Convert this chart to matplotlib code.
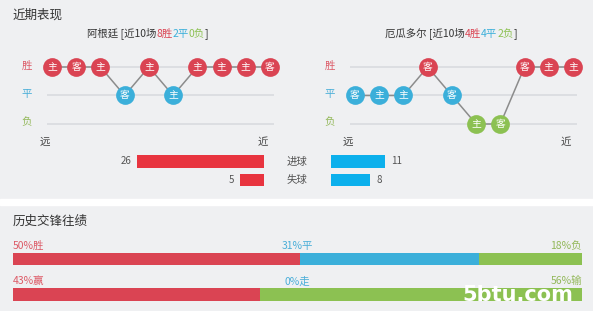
import matplotlib
matplotlib.use('Agg')
import matplotlib.pyplot as plt
from matplotlib.patches import Rectangle

plt.rcParams['font.family'] = ['Noto Sans CJK SC', 'DejaVu Sans']

# ---- data ----
arg_name = '阿根廷'
arg_results = ['胜', '胜', '胜', '平', '胜', '平', '胜', '胜', '胜', '胜']
arg_venues = ['主', '客', '主', '客', '主', '主', '主', '主', '主', '客']
ecu_name = '厄瓜多尔'
ecu_results = ['平', '平', '平', '胜', '平', '负', '负', '胜', '胜', '胜']
ecu_venues = ['客', '主', '主', '客', '客', '主', '客', '客', '主', '主']

goal_labels = ['进球', '失球']
arg_goals = [26, 5]
ecu_goals = [11, 8]

h2h_rows = [[50, 31, 18], [43, 0, 56]]
h2h_names = [['胜', '平', '负'], ['赢', '走', '输']]

# ---- style ----
W, H = 593, 311
BG = '#eff0f2'
RED, BLUE, GREEN = '#da4453', '#3bafda', '#8cc152'
res_color = {'胜': RED, '平': BLUE, '负': GREEN}
lab_color = {'胜': '#dd5a67', '平': '#4aaed8', '负': '#93b85a'}
row_y = {'胜': 2, '平': 1, '负': 0}

fig = plt.figure(figsize=(W / 100, H / 100), dpi=100, facecolor=BG)
fig.patches.append(Rectangle((0, 1 - 205 / H), 1, 6 / H, transform=fig.transFigure,
                             color='white', zorder=0))

bg = fig.add_axes([0, 0, 1, 1])
bg.set_xlim(0, W)
bg.set_ylim(H, 0)
bg.set_axis_off()


def px_axes(x0, y0, x1, y1):
    ax = fig.add_axes([x0 / W, 1 - y1 / H, (x1 - x0) / W, (y1 - y0) / H])
    ax.set_axis_off()
    return ax


def colored_title(x, y, segs):
    t = bg.text(x, y, segs[0][0], color=segs[0][1], fontsize=7.5, va='center', ha='left')
    for s, c in segs[1:]:
        t = bg.annotate(s, xy=(1, 0), xycoords=t, color=c, fontsize=7.5,
                        va='bottom', ha='left')


def draw_form(x0, name, results, venues):
    # x0 = pixel of first circle
    step, ystep = 24.22, 28.5
    ax = px_axes(x0 - step / 2, 67 - ystep / 2, x0 + 9.5 * step, 124 + ystep / 2)
    ax.set_xlim(-0.5, 9.5)
    ax.set_ylim(-0.5, 2.5)
    for y in range(3):
        ax.plot([-0.17, 9.12], [y, y], color='#dcdee2', lw=1.4, zorder=1)
    ys = [row_y[r] for r in results]
    xs = list(range(len(results)))
    ax.plot(xs, ys, color='#8c8c8c', lw=1.1, zorder=2)
    for x, y, r, v in zip(xs, ys, results, venues):
        ax.plot(x, y, 'o', ms=13.5, color=res_color[r], mew=0, zorder=3)
        ax.text(x, y, v, color='white', fontsize=7, ha='center', va='center', zorder=4)
    for r, y in row_y.items():
        ax.text(-1.05, y + 0.05, r, color=lab_color[r], fontsize=7.5, ha='center', va='center')
    ax.text(-0.3, -0.63, '远', color='#444444', fontsize=7.5, ha='center', va='center')
    ax.text(8.7, -0.63, '近', color='#444444', fontsize=7.5, ha='center', va='center')
    n_w, n_d, n_l = results.count('胜'), results.count('平'), results.count('负')
    return [(name + ' [近%d场' % len(results), '#333333'), ('%d胜' % n_w, RED),
            ('%d平' % n_d, BLUE), ('%d负' % n_l, GREEN), (']', '#333333')]


bg.text(13, 15, '近期表现', fontsize=9, color='#333333', va='center')
colored_title(87, 33, draw_form(52, arg_name, arg_results, arg_venues))
colored_title(385, 33, draw_form(355, ecu_name, ecu_results, ecu_venues))

# ---- goals ----
scale = 4.88
ax_l = px_axes(100, 152.25, 264, 189.25)
ax_l.set_xlim(164 / scale, 0)
ax_l.set_ylim(1.5, -0.5)
ax_l.barh(range(2), arg_goals, height=0.7, color='#e8343f')
for i, v in enumerate(arg_goals):
    ax_l.text(v + 6 / scale, i, str(v), ha='right', va='center', fontsize=7, color='#555555')

ax_r = px_axes(331, 152.25, 495, 189.25)
ax_r.set_xlim(0, 164 / scale)
ax_r.set_ylim(1.5, -0.5)
ax_r.barh(range(2), ecu_goals, height=0.7, color='#0cb0ec')
for i, v in enumerate(ecu_goals):
    ax_r.text(v + 6 / scale, i, str(v), ha='left', va='center', fontsize=7, color='#555555')

for i, lab in enumerate(goal_labels):
    bg.text(297, 161.5 + 18.5 * i, lab, ha='center', va='center', fontsize=7.5, color='#555555')

# ---- head to head ----
bg.text(13, 221, '历史交锋往绩', fontsize=9, color='#333333', va='center')
ax_h = px_axes(13, 241.25, 582, 308.7)
ax_h.set_xlim(0, 100)
ax_h.set_ylim(1.4, -0.5)
seg_colors = [RED, BLUE, GREEN]
txt_colors = ['#dd5a67', '#4aaed8', '#93b85a']
for i, (vals, names) in enumerate(zip(h2h_rows, h2h_names)):
    tot = sum(vals)
    left = 0
    for v, c in zip(vals, seg_colors):
        w = v * 100 / tot
        ax_h.barh(i, w, left=left, height=0.34, color=c)
        left += w
    for j, (v, n) in enumerate(zip(vals, names)):
        ax_h.text([0, 50, 100][j], i - 0.37, '%d%%%s' % (v, n), color=txt_colors[j],
                  ha=['left', 'center', 'right'][j], va='center', fontsize=7.5)

# watermark
bg.text(518, 295, '5btu.com', color='white', fontsize=15, fontweight='bold',
        ha='center', va='center', family='DejaVu Sans', zorder=10)
bg.set_zorder(5)
bg.patch.set_visible(False)

fig.savefig('out.png', dpi=100, facecolor=BG)
